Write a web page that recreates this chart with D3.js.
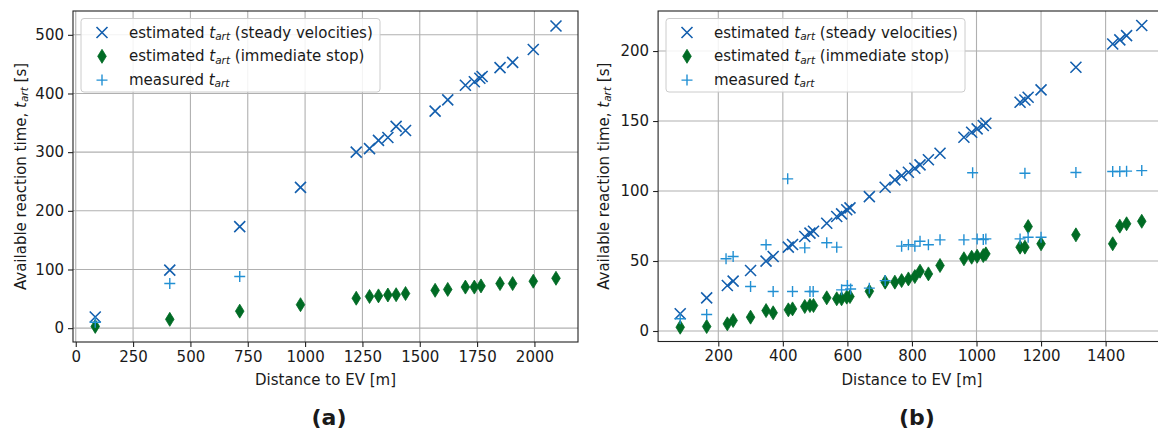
<!DOCTYPE html>
<html>
<head>
<meta charset="utf-8">
<script src="https://cdn.jsdelivr.net/npm/d3@7"></script>
<style>
  html, body { margin: 0; padding: 0; background: #fff; }
  svg { display: block; }
  text { font-family: "DejaVu Sans", sans-serif; fill: #1a1a1a; }
</style>
</head>
<body>
<svg id="fig" width="1158" height="430"></svg>
<script>
// ---- Panel (a): distance to EV [m] vs available reaction time [s] ----
const steadyA_x = [85, 410, 715, 980, 1223, 1281, 1320, 1361, 1397, 1438, 1567, 1622, 1699, 1738, 1762, 1772, 1850, 1905, 1995, 2094];
const steadyA_y = [19, 99, 173, 240, 300, 306, 320, 325, 344, 337, 370, 389, 414, 420, 426, 429, 444, 453, 475, 515];
const stopA_x = [85, 410, 715, 980, 1223, 1281, 1320, 1361, 1397, 1438, 1567, 1622, 1699, 1738, 1767, 1850, 1905, 1995, 2094];
const stopA_y = [3, 15, 29, 40, 51, 54, 55, 56.5, 57, 59, 64.5, 66, 70, 70, 72, 76, 76, 80, 85];
const measA_x = [85, 410, 715];
const measA_y = [10, 76, 88];
const ticksA_x = [0, 250, 500, 750, 1000, 1250, 1500, 1750, 2000];
const ticksA_y = [0, 100, 200, 300, 400, 500];

// ---- Panel (b) ----
const steadyB_x = [82, 164, 228, 246, 300, 348, 370, 417, 430, 468, 484, 495, 536, 567, 582, 598, 608, 668, 717, 747, 768, 789, 809, 825, 851, 887, 961, 985, 1002, 1021, 1029, 1135, 1150, 1160, 1200, 1308, 1422, 1444, 1465, 1512];
const steadyB_y = [12.3, 23.7, 32.5, 35.6, 43.2, 49.9, 53.2, 59.9, 61.8, 67.5, 69.9, 71.3, 77, 81.8, 83.7, 86.6, 88, 96, 102.7, 108, 111, 113.4, 116.3, 118.7, 122.3, 127, 138.4, 142, 144.4, 146.8, 148.4, 163.4, 165, 167, 172.3, 188.4, 205, 208, 211, 218.2];
const stopB_x = steadyB_x;
const stopB_y = [2.7, 3.2, 5.1, 7.5, 9.9, 14.6, 13, 15.1, 15.8, 17.5, 18.2, 18.2, 23.7, 23, 23, 24.2, 24.6, 28.4, 34.9, 34.9, 36, 37.2, 38.9, 42.7, 40.8, 46.8, 51.6, 52.7, 53.4, 53.9, 55.1, 59.9, 59.9, 74.6, 62.3, 68.7, 62.3, 74.9, 76.6, 78.4];
const measB_x = [82, 164, 224, 246, 300, 348, 370, 415, 430, 468, 484, 494, 536, 567, 582, 600, 610, 668, 717, 768, 789, 809, 825, 851, 887, 961, 988, 1002, 1021, 1029, 1135, 1150, 1160, 1200, 1308, 1422, 1444, 1465, 1512];
const measB_y = [8.7, 11.8, 51.6, 53.2, 31.8, 61.6, 28.2, 108.7, 28.2, 59.4, 28.2, 28.2, 63, 59.9, 29.4, 32.5, 30, 30.6, 36, 60.6, 61.6, 60.6, 64.1, 61.6, 65.1, 65.1, 113, 65.8, 65.3, 65.8, 65.8, 112.7, 67, 67, 113.2, 113.9, 113.9, 114.2, 114.6];
const ticksB_x = [200, 400, 600, 800, 1000, 1200, 1400];
const ticksB_y = [0, 50, 100, 150, 200];

const xTitle = "Distance to EV [m]";
const seriesNames = [
  ["estimated ", " (steady velocities)"],
  ["estimated ", " (immediate stop)"],
  ["measured ", ""]
];

const COL_STEADY = "#135fae";
const COL_STOP = "#006b24";
const COL_MEAS = "#2290d3";
const FS = 15;

const svg = d3.select("#fig");

// marker painters (matplotlib-like 'x', 'd', '+')
function drawX(g, x, y) {
  const s = 5.5;
  g.append("path")
    .attr("d", `M${x - s},${y - s}L${x + s},${y + s}M${x - s},${y + s}L${x + s},${y - s}`)
    .attr("stroke", COL_STEADY).attr("stroke-width", 1.6).attr("fill", "none");
}
function drawD(g, x, y) {
  const w = 4.3, h = 7;
  g.append("path")
    .attr("d", `M${x},${y - h}L${x + w},${y}L${x},${y + h}L${x - w},${y}Z`)
    .attr("fill", COL_STOP).attr("stroke", COL_STOP).attr("stroke-width", 0.8);
}
function drawP(g, x, y) {
  const s = 5.5;
  g.append("path")
    .attr("d", `M${x - s},${y}L${x + s},${y}M${x},${y - s}L${x},${y + s}`)
    .attr("stroke", COL_MEAS).attr("stroke-width", 1.4).attr("fill", "none");
}

function tartLabel(textSel, before, after, size) {
  textSel.append("tspan").text(before);
  textSel.append("tspan").text("t").attr("font-style", "italic");
  textSel.append("tspan").text("art").attr("font-style", "italic")
    .attr("font-size", size * 0.7).attr("dy", size * 0.22);
  textSel.append("tspan").text(after).attr("dy", -size * 0.22);
}

function panel(cfg) {
  const x = d3.scaleLinear().domain(cfg.xDomain).range(cfg.xRange);
  const y = d3.scaleLinear().domain(cfg.yDomain).range(cfg.yRange);
  const [L, R] = cfg.xRange;
  const [B, T] = cfg.yRange;

  const clipId = "clip" + cfg.id;
  svg.append("clipPath").attr("id", clipId)
    .append("rect").attr("x", L).attr("y", T).attr("width", R - L).attr("height", B - T);

  const g = svg.append("g");

  // grid
  const grid = g.append("g").attr("stroke", "#b0b0b0").attr("stroke-width", 1.1);
  cfg.xTicks.forEach(t => grid.append("line")
    .attr("x1", x(t)).attr("x2", x(t)).attr("y1", T).attr("y2", B));
  cfg.yTicks.forEach(t => grid.append("line")
    .attr("x1", L).attr("x2", R).attr("y1", y(t)).attr("y2", y(t)));

  // markers
  const marks = g.append("g").attr("clip-path", `url(#${clipId})`);
  cfg.steadyX.forEach((d, i) => drawX(marks, x(d), y(cfg.steadyY[i])));
  cfg.stopX.forEach((d, i) => drawD(marks, x(d), y(cfg.stopY[i])));
  cfg.measX.forEach((d, i) => drawP(marks, x(d), y(cfg.measY[i])));

  // axes
  const fmt = d3.format("d");
  const xAxis = d3.axisBottom(x).tickValues(cfg.xTicks).tickFormat(fmt).tickSize(5).tickPadding(4);
  const yAxis = d3.axisLeft(y).tickValues(cfg.yTicks).tickFormat(fmt).tickSize(5).tickPadding(4);
  const ax = g.append("g").attr("transform", `translate(0,${B})`).call(xAxis);
  const ay = g.append("g").attr("transform", `translate(${L},0)`).call(yAxis);
  [ax, ay].forEach(a => {
    a.select(".domain").remove();
    a.selectAll("line").attr("stroke", "#222").attr("stroke-width", 1.1);
    a.selectAll("text").attr("font-size", FS).attr("font-family", "DejaVu Sans").attr("fill", "#1a1a1a");
  });

  // frame
  g.append("rect").attr("x", L).attr("y", T).attr("width", R - L).attr("height", B - T)
    .attr("fill", "none").attr("stroke", "#222").attr("stroke-width", 1.1);

  // axis titles
  g.append("text").attr("x", (L + R) / 2).attr("y", B + 43)
    .attr("text-anchor", "middle").attr("font-size", FS).text(xTitle);
  const yt = g.append("text")
    .attr("transform", `translate(${cfg.yTitleX},${(T + B) / 2}) rotate(-90)`)
    .attr("text-anchor", "middle").attr("dominant-baseline", "central").attr("font-size", FS);
  tartLabel(yt, "Available reaction time, ", " [s]", FS);

  // legend
  const lg = g.append("g").attr("transform", `translate(${cfg.legend[0]},${cfg.legend[1]})`);
  lg.append("rect").attr("width", 299).attr("height", 73.5).attr("rx", 3)
    .attr("fill", "#fff").attr("fill-opacity", 0.85)
    .attr("stroke", "#cccccc").attr("stroke-width", 1);
  const painters = [drawX, drawD, drawP];
  seriesNames.forEach((nm, i) => {
    const ry = 14 + i * 23.8;
    painters[i](lg, 21, ry);
    const t = lg.append("text").attr("x", 48).attr("y", ry)
      .attr("dominant-baseline", "central").attr("font-size", FS);
    tartLabel(t, nm[0], nm[1], FS);
  });

  // panel caption
  svg.append("text").attr("x", cfg.capX).attr("y", 417)
    .attr("text-anchor", "middle").attr("dominant-baseline", "central")
    .attr("font-family", "Lato, 'Open Sans', sans-serif").attr("font-weight", "bold")
    .attr("font-size", 22).text(cfg.caption);
}

panel({
  id: "a",
  xDomain: [-12, 2190], xRange: [73, 578],
  yDomain: [-23.6, 540.6], yRange: [342, 11],
  xTicks: ticksA_x, yTicks: ticksA_y,
  steadyX: steadyA_x, steadyY: steadyA_y,
  stopX: stopA_x, stopY: stopA_y,
  measX: measA_x, measY: measA_y,
  yTitleX: 21, legend: [81, 18.5], capX: 329, caption: "(a)"
});

panel({
  id: "b",
  xDomain: [13.5, 1586.5], xRange: [658.1, 1165.8],
  yDomain: [-7.5, 228.6], yRange: [341.5, 11],
  xTicks: ticksB_x, yTicks: ticksB_y,
  steadyX: steadyB_x, steadyY: steadyB_y,
  stopX: stopB_x, stopY: stopB_y,
  measX: measB_x, measY: measB_y,
  yTitleX: 604, legend: [666, 18.5], capX: 917, caption: "(b)"
});
</script>
</body>
</html>
